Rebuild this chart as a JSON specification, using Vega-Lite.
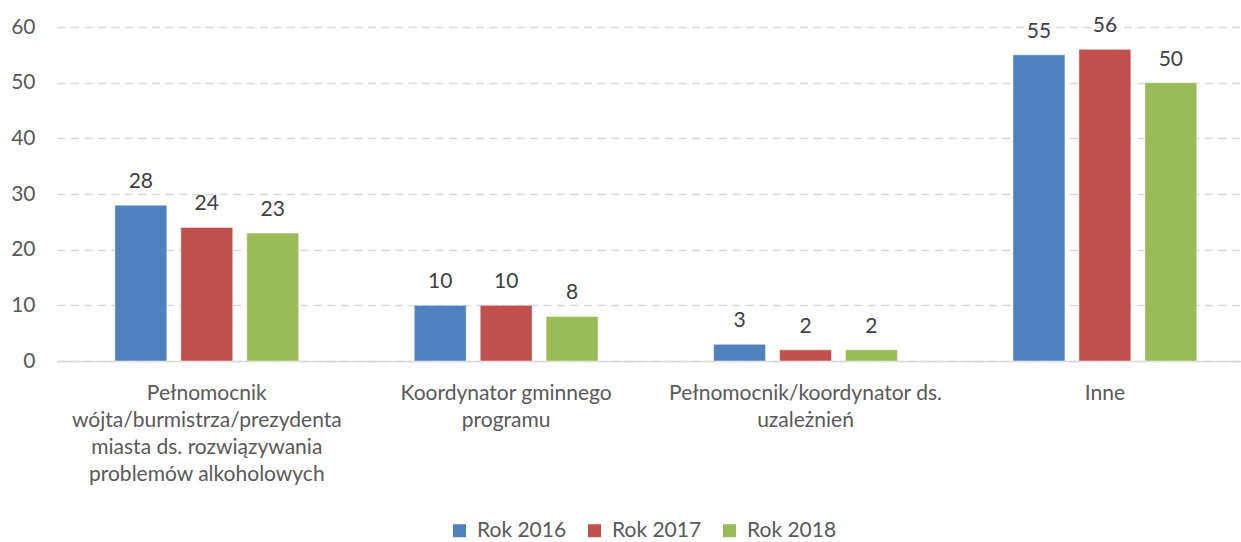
{
  "$schema": "https://vega.github.io/schema/vega-lite/v6.json",
  "autosize": "none",
  "width": 1184,
  "height": 334,
  "padding": {"left": 57, "top": 27, "right": 0, "bottom": 181},
  "background": "white",
  "config": {
    "view": {"stroke": null},
    "font": "Lato",
    "axis": {"labelFont": "Lato", "labelColor": "#595959"},
    "legend": {"labelFont": "Lato"}
  },
  "data": {
    "values": [
      {"kategoria": "Pełnomocnik|wójta/burmistrza/prezydenta|miasta ds. rozwiązywania|problemów alkoholowych", "rok": "Rok 2016", "wartosc": 28},
      {"kategoria": "Pełnomocnik|wójta/burmistrza/prezydenta|miasta ds. rozwiązywania|problemów alkoholowych", "rok": "Rok 2017", "wartosc": 24},
      {"kategoria": "Pełnomocnik|wójta/burmistrza/prezydenta|miasta ds. rozwiązywania|problemów alkoholowych", "rok": "Rok 2018", "wartosc": 23},
      {"kategoria": "Koordynator gminnego|programu", "rok": "Rok 2016", "wartosc": 10},
      {"kategoria": "Koordynator gminnego|programu", "rok": "Rok 2017", "wartosc": 10},
      {"kategoria": "Koordynator gminnego|programu", "rok": "Rok 2018", "wartosc": 8},
      {"kategoria": "Pełnomocnik/koordynator ds.|uzależnień", "rok": "Rok 2016", "wartosc": 3},
      {"kategoria": "Pełnomocnik/koordynator ds.|uzależnień", "rok": "Rok 2017", "wartosc": 2},
      {"kategoria": "Pełnomocnik/koordynator ds.|uzależnień", "rok": "Rok 2018", "wartosc": 2},
      {"kategoria": "Inne", "rok": "Rok 2016", "wartosc": 55},
      {"kategoria": "Inne", "rok": "Rok 2017", "wartosc": 56},
      {"kategoria": "Inne", "rok": "Rok 2018", "wartosc": 50}
    ]
  },
  "encoding": {
    "x": {
      "field": "kategoria",
      "type": "nominal",
      "sort": null,
      "scale": {"paddingInner": 0.386, "paddingOuter": 0.1705, "align": 0.567},
      "axis": {
        "title": null,
        "labelAngle": 0,
        "labelExpr": "split(datum.label, '|')",
        "labelFontSize": 21,
        "labelLineHeight": 27,
        "labelPadding": 21,
        "labelLimit": 400,
        "ticks": false,
        "grid": false,
        "domainColor": "#d9d9d9",
        "domainWidth": 1.3
      }
    },
    "xOffset": {
      "field": "rok",
      "type": "nominal",
      "scale": {"paddingInner": 0.212, "paddingOuter": 0}
    },
    "y": {
      "field": "wartosc",
      "type": "quantitative",
      "scale": {"domain": [0, 60], "nice": false},
      "axis": {
        "title": null,
        "values": [0, 10, 20, 30, 40, 50, 60],
        "labelFontSize": 21,
        "labelPadding": 22,
        "ticks": false,
        "domain": false,
        "gridColor": "#d9d9d9",
        "gridWidth": 1.3,
        "gridDash": [8, 5.5]
      }
    }
  },
  "layer": [
    {
      "mark": {"type": "bar", "stroke": "white", "strokeOpacity": 0.5, "strokeWidth": 1},
      "encoding": {
        "color": {
          "field": "rok",
          "type": "nominal",
          "scale": {"domain": ["Rok 2016", "Rok 2017", "Rok 2018"], "range": ["#4F81BD", "#C0504D", "#9BBB59"]},
          "legend": {
            "title": null,
            "orient": "none",
            "direction": "horizontal",
            "legendX": 392,
            "legendY": 493,
            "symbolType": "square",
            "symbolSize": 169,
            "symbolStrokeWidth": 0,
            "labelFontSize": 21,
            "labelColor": "#595959",
            "columnPadding": 17,
            "symbolOffset": 0,
            "labelOffset": 7
          }
        }
      }
    },
    {
      "mark": {"type": "text", "baseline": "alphabetic", "dy": -17, "fontSize": 21, "color": "#404040"},
      "encoding": {
        "text": {"field": "wartosc", "type": "quantitative"}
      }
    }
  ]
}
